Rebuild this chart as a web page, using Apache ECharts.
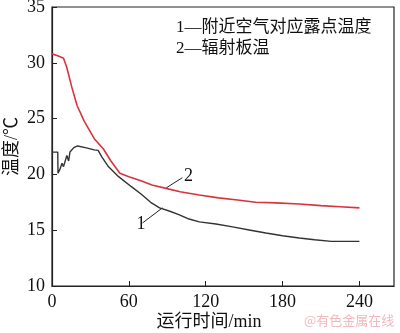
<!DOCTYPE html>
<html>
<head>
<meta charset="utf-8">
<script src="https://cdn.jsdelivr.net/npm/echarts@6/dist/echarts.min.js"></script>
<style>
  html, body { margin: 0; padding: 0; background: #fff; }
  #main { width: 400px; height: 333px; }
</style>
</head>
<body>
<div id="main"></div>
<script>
// 曲线2 辐射板温 [时间 min, 温度 ℃]
const plateTemp = [
  [0, 30.8], [5, 30.6], [9, 30.4], [11.5, 29.6], [15.5, 27.8], [19.5, 26.2],
  [25, 24.8], [33, 23.2], [40, 22.3], [46, 21.2], [53, 20.1], [60, 19.8],
  [70, 19.4], [78, 19.05], [89, 18.75], [100, 18.45], [115, 18.15], [130, 17.9],
  [145, 17.7], [159, 17.5], [175, 17.45], [193, 17.35], [210, 17.2], [225, 17.1], [240, 17.0]
];
// 曲线1 附近空气对应露点温度
const dewPoint = [
  [0, 22.0], [4.5, 22.0], [4.7, 20.1], [6, 20.4], [7.8, 21.0], [9, 20.7], [10, 20.8],
  [11.6, 21.7], [13, 21.2], [14, 22.0], [17, 22.4], [20, 22.55], [26, 22.4],
  [33, 22.2], [36, 22.15], [39, 21.55], [44, 20.7], [52, 19.8], [62, 18.9],
  [70, 18.2], [77, 17.5], [84, 17.0], [92, 16.7], [99, 16.4], [107, 16.0],
  [115, 15.75], [128, 15.55], [141, 15.3], [155, 15.0], [167, 14.75], [180, 14.5],
  [193, 14.3], [205, 14.15], [218, 14.0], [230, 14.0], [240, 14.0]
];
const xTicks = [0, 60, 120, 180, 240];
const legendLines = ['1—附近空气对应露点温度', '2—辐射板温'];

const serif = '"Liberation Serif", "DejaVu Serif", serif';
const cjk = '"Liberation Serif", "Noto Sans CJK SC", serif';

let myChart = echarts.init(document.getElementById('main'));
let option = {
  backgroundColor: '#fff',
  animation: false,
  grid: {
    left: 52, right: 6, top: 7, bottom: 47, outerBoundsMode: 'none',
    show: true, borderColor: '#222', borderWidth: 1.2
  },
  xAxis: {
    type: 'value', min: 0, max: 267, interval: 60,
    name: '运行时间/min', nameLocation: 'middle', nameGap: 27, nameMoveOverlap: false,
    nameTextStyle: { fontFamily: cjk, fontSize: 18, color: '#111', padding: [0, 28, 0, 0] },
    axisLine: { lineStyle: { color: '#222', width: 1.2 } },
    axisTick: { inside: true, length: 5, lineStyle: { color: '#222' } },
    axisLabel: {
      fontFamily: serif, fontSize: 18, color: '#111', margin: 7, showMaxLabel: false,
      formatter: v => xTicks.includes(v) ? String(v) : ''
    },
    splitLine: { show: false }
  },
  yAxis: {
    type: 'value', min: 10, max: 35, interval: 5,
    name: '温度/℃', nameLocation: 'middle', nameGap: 31, nameMoveOverlap: false,
    nameTextStyle: { fontFamily: cjk, fontSize: 18, color: '#111' },
    axisLine: { show: true, lineStyle: { color: '#222', width: 1.2 } },
    axisTick: { show: true, inside: true, length: 5, lineStyle: { color: '#222' } },
    axisLabel: { fontFamily: serif, fontSize: 18, color: '#111', margin: 7 },
    splitLine: { show: false }
  },
  series: [
    {
      name: '2', type: 'line', data: plateTemp, showSymbol: false,
      lineStyle: { color: '#d8343c', width: 1.6 },
      markLine: {
        silent: true, symbol: 'none',
        lineStyle: { color: '#222', width: 1, type: 'solid' },
        label: { show: true, position: 'end', formatter: '2', fontFamily: serif, fontSize: 18, color: '#111', distance: 2 },
        data: [[{ coord: [89.3, 18.8] }, { coord: [101.7, 19.7] }]]
      }
    },
    {
      name: '1', type: 'line', data: dewPoint, showSymbol: false,
      lineStyle: { color: '#333', width: 1.4 },
      markLine: {
        silent: true, symbol: 'none',
        lineStyle: { color: '#222', width: 1, type: 'solid' },
        label: { show: true, position: 'start', formatter: '1', fontFamily: serif, fontSize: 18, color: '#111', distance: 2 },
        data: [[{ coord: [70.7, 15.65] }, { coord: [86.2, 17.0] }]]
      }
    }
  ],
  graphic: [
    { type: 'text', left: 176, top: 19, style: { text: legendLines[0], font: '17px "Liberation Serif", "Noto Sans CJK SC"', fill: '#111' } },
    { type: 'text', left: 176, top: 40, style: { text: legendLines[1], font: '17px "Liberation Serif", "Noto Sans CJK SC"', fill: '#111' } },
    { type: 'text', left: 304, top: 314, style: { text: '@有色金属在线', font: '13px "Noto Sans CJK SC"', fill: '#f2b8bd' } }
  ]
};
myChart.setOption(option);
</script>
</body>
</html>
